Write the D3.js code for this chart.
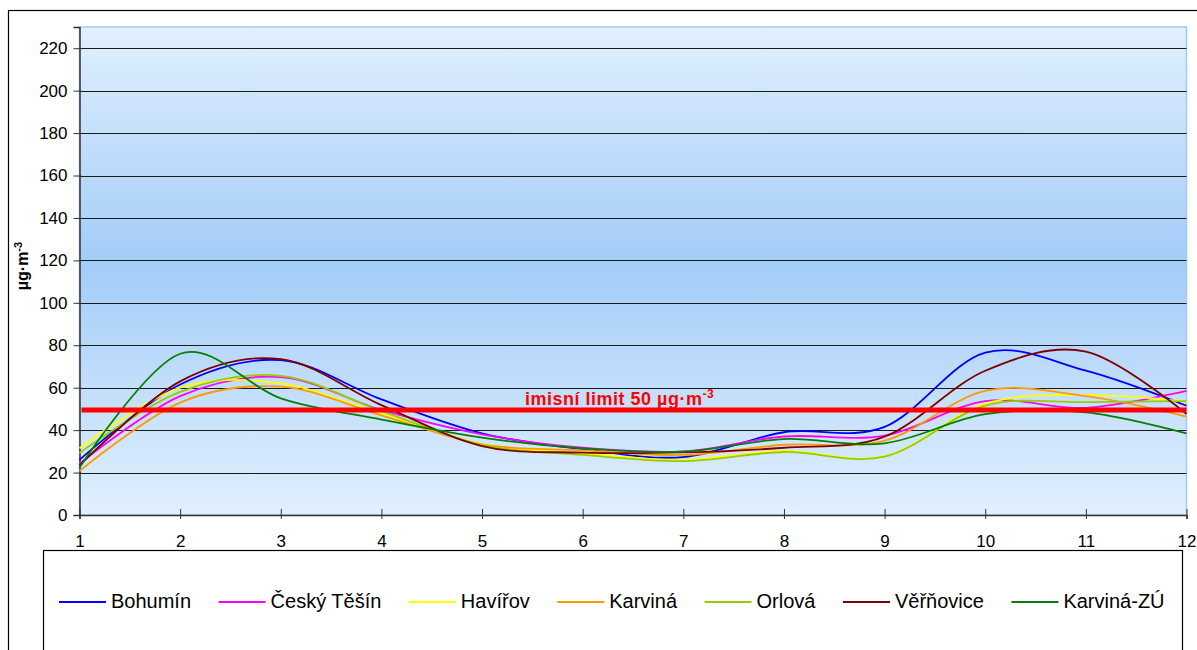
<!DOCTYPE html>
<html>
<head>
<meta charset="utf-8">
<script src="https://cdn.jsdelivr.net/npm/d3@7"></script>
<style>
  html, body { margin: 0; padding: 0; background: #ffffff; }
  svg { display: block; font-family: "Liberation Sans", Arial, sans-serif; }
</style>
</head>
<body>
<svg id="chart" width="1197" height="650"></svg>
<script>
// ---- data ----
const months = [1, 2, 3, 4, 5, 6, 7, 8, 9, 10, 11, 12];
const yTickValues = [0, 20, 40, 60, 80, 100, 120, 140, 160, 180, 200, 220];
const seriesNames = ["Bohumín", "Český Těšín", "Havířov", "Karviná", "Orlová", "Věřňovice", "Karviná-ZÚ"];
const bohumin   = [26.0, 61.5, 73.0, 54.5, 38.5, 31.0, 27.3, 39.0, 41.5, 76.5, 68.0, 51.5];
const ceskyTesin= [24.2, 56.0, 65.0, 49.5, 38.0, 31.7, 30.0, 37.0, 37.4, 53.7, 50.5, 58.5];
const havirov   = [31.5, 60.0, 62.0, 47.5, 33.5, 29.0, 26.0, 30.2, 27.7, 52.5, 56.5, 53.5];
const karvina   = [20.7, 53.0, 60.5, 47.0, 33.3, 30.5, 28.3, 33.1, 35.0, 58.5, 56.0, 46.4];
const orlova    = [29.2, 58.0, 65.6, 49.0, 33.0, 28.3, 25.4, 29.7, 27.5, 51.6, 53.2, 53.7];
const verovice  = [23.4, 63.0, 73.5, 51.8, 32.5, 29.4, 29.5, 31.7, 36.9, 68.0, 77.0, 47.6];
const karvinaZU = [22.3, 76.0, 55.0, 45.0, 36.5, 31.4, 29.8, 35.8, 33.8, 47.5, 48.4, 38.5];
const seriesValues = [bohumin, ceskyTesin, havirov, karvina, orlova, verovice, karvinaZU];
const seriesColors = ["#0000ff", "#ff00ff", "#ffff00", "#ff9900", "#99cc00", "#800000", "#008000"];
const limitValue = 50;
const limitLabel = "imisní limit 50  µg·m";
const unitLabel = "µg·m";
const unitSup = "-3";

// ---- layout ----
const plot = { left: 79.5, right: 1186.5, top: 27, bottom: 515 };

const svg = d3.select("#chart");

// outer frame
svg.append("rect").attr("x", 8.5).attr("y", 10.5).attr("width", 1200).attr("height", 660)
  .attr("fill", "#ffffff").attr("stroke", "#000").attr("stroke-width", 1.2);

// gradient
const defs = svg.append("defs");
const grad = defs.append("linearGradient").attr("id", "bg").attr("x1", 0).attr("y1", 0).attr("x2", 0).attr("y2", 1);
grad.append("stop").attr("offset", "0%").attr("stop-color", "#e1f0ff");
grad.append("stop").attr("offset", "48%").attr("stop-color", "#a3ccf8");
grad.append("stop").attr("offset", "100%").attr("stop-color", "#e1f0ff");

const x = d3.scaleLinear().domain([1, 12]).range([plot.left, plot.right]);
const y = d3.scaleLinear().domain([0, 230]).range([plot.bottom, plot.top]);

svg.append("rect").attr("x", plot.left).attr("y", plot.top)
  .attr("width", plot.right - plot.left).attr("height", plot.bottom - plot.top)
  .attr("fill", "url(#bg)").attr("stroke", "#9fcbf5").attr("stroke-width", 1.5);

// gridlines
svg.append("g").selectAll("line").data(yTickValues.filter(d => d > 0)).join("line")
  .attr("x1", plot.left).attr("x2", plot.right)
  .attr("y1", d => Math.round(y(d)) + 0.5).attr("y2", d => Math.round(y(d)) + 0.5)
  .attr("stroke", "#1a1a1a").attr("stroke-width", 1);

// y axis
const yAxis = d3.axisLeft(y).tickValues(yTickValues).tickSize(6).tickPadding(6);
const gy = svg.append("g").attr("transform", `translate(${plot.left},0)`).call(yAxis);
gy.select(".domain").attr("stroke", "#333").attr("stroke-width", 1.5);
gy.selectAll(".tick line").attr("stroke", "#333").attr("x2", -6).attr("x1", 2);
gy.selectAll(".tick text").attr("font-size", 17).attr("fill", "#000")
  .attr("font-family", "'Liberation Sans', Arial, sans-serif").attr("x", -12);

// x axis
const xAxis = d3.axisBottom(x).tickValues(months).tickSize(4).tickPadding(0).tickFormat(d3.format("d"));
const gx = svg.append("g").attr("transform", `translate(0,${plot.bottom})`).call(xAxis);
gx.select(".domain").attr("stroke", "#333").attr("stroke-width", 1.5);
gx.selectAll(".tick line").attr("stroke", "#333").attr("y1", -6).attr("y2", 4);
gx.selectAll(".tick text").attr("font-size", 17).attr("fill", "#000")
  .attr("font-family", "'Liberation Sans', Arial, sans-serif").attr("dy", null).attr("y", 32);

// series lines
const line = d3.line().x((d, i) => x(months[i])).y(d => y(d)).curve(d3.curveCardinal.tension(0));
svg.append("g").selectAll("path").data(seriesValues).join("path")
  .attr("d", d => line(d))
  .attr("fill", "none")
  .attr("stroke", (d, i) => seriesColors[i])
  .attr("stroke-width", 1.8)
  .attr("stroke-linejoin", "round");

// limit line
svg.append("line").attr("x1", plot.left + 2).attr("x2", plot.right)
  .attr("y1", y(limitValue) + 1).attr("y2", y(limitValue) + 1)
  .attr("stroke", "#ff0000").attr("stroke-width", 5);
const lt = svg.append("text").attr("x", 525).attr("y", 405)
  .attr("fill", "#ff0000").attr("font-weight", "bold").attr("font-size", 18)
  .attr("letter-spacing", 0.5);
lt.append("tspan").text(limitLabel);
lt.append("tspan").attr("dy", -7).attr("font-size", 12).text(unitSup);

// y title
const yt = svg.append("text").attr("transform", "translate(28,266) rotate(-90)")
  .attr("text-anchor", "middle").attr("font-weight", "bold").attr("font-size", 16).attr("fill", "#000");
yt.append("tspan").text(unitLabel);
yt.append("tspan").attr("dy", -6).attr("font-size", 11).text(unitSup);

// legend box
svg.append("rect").attr("x", 43.5).attr("y", 550.5).attr("width", 1139).attr("height", 120)
  .attr("fill", "#fff").attr("stroke", "#000").attr("stroke-width", 1.2);

const legend = svg.append("g");
let lx = 59;
seriesNames.forEach((name, i) => {
  legend.append("line").attr("x1", lx).attr("x2", lx + 47).attr("y1", 602).attr("y2", 602)
    .attr("stroke", seriesColors[i]).attr("stroke-width", 1.8);
  const t = legend.append("text").attr("x", lx + 52).attr("y", 608)
    .attr("font-size", 20).attr("fill", "#000").text(name);
  lx = lx + 52 + t.node().getComputedTextLength() + 27.5;
});
</script>
</body>
</html>
